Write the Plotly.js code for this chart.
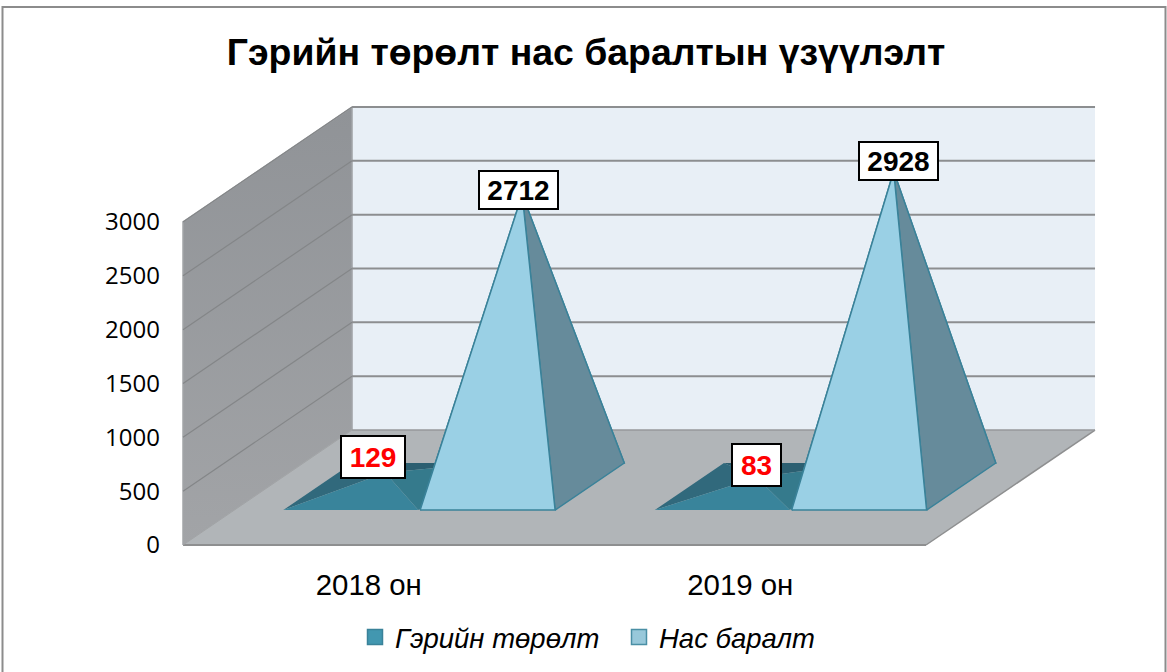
<!DOCTYPE html>
<html>
<head>
<meta charset="utf-8">
<script src="https://cdn.plot.ly/plotly-3.0.1.min.js"></script>
<style>html,body{margin:0;padding:0;background:#fff;overflow:hidden}#chart{width:1167px;height:672px}</style>
</head>
<body>
<div id="chart"></div>
<script>
const categories = ["2018 он", "2019 он"];
const seriesNames = ["Гэрийн төрөлт", "Нас баралт"];
const births = [129, 83];
const deaths = [2712, 2928];
const yTicks = [0, 500, 1000, 1500, 2000, 2500, 3000];
const titleText = "Гэрийн төрөлт нас баралтын үзүүлэлт";

// oblique projection of depth (0 = front, 1 = back) in axis units
const depthX = 0.455, depthY = 1068;
const catMin = -0.5, catMax = categories.length - 0.5, yMax = yTicks[yTicks.length - 1];
const barW = 0.3633, frontD = 0.304, backD = 0.713, midD = (frontD + backD) / 2;

const P = (c, d, v) => [c + d * depthX, v + d * depthY];

function poly(points, fillcolor, line, extra) {
  return Object.assign({
    x: points.map(p => p[0]), y: points.map(p => p[1]),
    mode: line ? "lines" : "none", fill: "toself", fillcolor,
    line: line || {width: 0}, hoverinfo: "skip", showlegend: false, type: "scatter"
  }, extra || {});
}
function segment(a, b, color, width) {
  return {x: [a[0], b[0]], y: [a[1], b[1]], mode: "lines", line: {color, width},
          hoverinfo: "skip", showlegend: false, type: "scatter"};
}
const close = pts => pts.concat([pts[0]]);

const traces = [];
// walls and floor
traces.push(poly(close([P(catMax,1,0),P(catMax,1,yMax),P(catMin,1,yMax),P(catMin,1,0)]), "#E8EFF6"));
traces.push(poly(close([P(catMin,0,0),P(catMin,0,yMax),P(catMin,1,yMax),P(catMin,1,0)]), "#96999C",
  {color:"#A2A5A8",width:1.5}, {fillgradient:{type:"vertical",colorscale:[[0,"#A2A4A7"],[1,"#909397"]]}}));
yTicks.slice(1).forEach(v => {
  traces.push(segment(P(catMin,0,v), P(catMin,1,v), "#848688", 1.2));
  traces.push(segment(P(catMin,1,v), P(catMax,1,v), "#8C8E90", 2));
});
traces.push(poly(close([P(catMin,0,0),P(catMax,0,0),P(catMax,1,0),P(catMin,1,0)]), "#B1B5B8"));
traces.push(segment(P(catMin,0,0), P(catMax,0,0), "#8E8F90", 2));
traces.push(segment(P(catMax,0,0), P(catMax,1,0), "#8E8F90", 1.5));
traces.push(segment(P(catMin,1,0), P(catMax,1,0), "#97999B", 1.5));
traces.push(segment(P(catMin,0,0), P(catMin,1,0), "#A2A4A6", 1));

function pyramid(cLeft, value, colors, outline) {
  const cR = cLeft + barW, cM = cLeft + barW / 2;
  const fl = P(cLeft,frontD,0), fr = P(cR,frontD,0), bl = P(cLeft,backD,0), br = P(cR,backD,0);
  const apex = P(cM,midD,value);
  const ln = outline ? {color: outline, width: 1.5} : null;
  traces.push(poly(close([bl,br,apex]), colors.back, ln));
  traces.push(poly(close([fl,bl,apex]), colors.left, ln));
  traces.push(poly(close([fr,br,apex]), colors.right, ln));
  traces.push(poly(close([fl,fr,apex]), colors.front, ln));
  return apex;
}
const darkColors = {back:"#2C5F71", left:"#31697C", right:"#357A8C", front:"#39849B"};
const lightColors = {back:"#668B9B", left:"#668B9B", right:"#668B9B", front:"#9AD0E5"};

const labelSpec = [];
categories.forEach((c, i) => {
  const a1 = pyramid(i - barW - 0.005, births[i], darkColors, null);
  labelSpec.push({apex:a1, text:String(births[i]), color:"#FF0000", w: births[i] > 99 ? 60 : 45, h:38,
                  xs: i === 0 ? -12 : 0, ys: i === 0 ? 16 : 13});
});
categories.forEach((c, i) => {
  const a2 = pyramid(i, deaths[i], lightColors, "#3A8299");
  labelSpec.push({apex:a2, text:String(deaths[i]), color:"#000000", w:75, h:34,
                  xs: i === 0 ? -4 : 4.5, ys: i === 0 ? 5 : 10});
});

// legend entries
traces.push({x:[null], y:[null], mode:"markers", type:"scatter", name:seriesNames[0], showlegend:true, hoverinfo:"skip",
  marker:{symbol:"square", size:15, color:"#4297B0", line:{color:"#3A8299", width:1.5}}});
traces.push({x:[null], y:[null], mode:"markers", type:"scatter", name:seriesNames[1], showlegend:true, hoverinfo:"skip",
  marker:{symbol:"square", size:15, color:"#98C8DA", line:{color:"#4A8FA5", width:1.5}}});

const mL = 165, mT = 95, mB = 107, W = 1167, H = 672;
const pw = W - mL, ph = H - mT - mB, plotBottom = H - mB;
const px2x = v => -0.5 + (v - 183) / 371.5;
const px2y = v => (545 - v) / 323 * 3000;

const layout = {
  width: W, height: H,
  paper_bgcolor: "#FFFFFF", plot_bgcolor: "rgba(0,0,0,0)",
  margin: {l: mL, r: 0, t: mT, b: mB, pad: 0, autoexpand: false},
  title: {text: titleText, x: 586 / W, xref: "container", xanchor: "center", y: 1 - 52 / H, yref: "container", yanchor: "middle",
          font: {family: "Liberation Sans", size: 37.4, weight: 700, color: "#000"}},
  xaxis: {range: [px2x(mL), px2x(W)], tickmode: "array", tickvals: categories.map((c, i) => i), ticktext: categories,
          showgrid: false, zeroline: false, showline: false, ticks: "", tickfont: {family: "Liberation Sans", size: 29.4, color: "#000"}},
  yaxis: {range: [px2y(plotBottom), px2y(mT)], tickmode: "array", tickvals: yTicks, ticktext: yTicks.map(String),
          showgrid: false, zeroline: false, showline: false, ticks: "", ticklabelstandoff: 4,
          tickfont: {family: "Open Sans", size: 24, color: "#000"}},
  legend: {orientation: "h", x: (355 - mL) / pw, xanchor: "left", y: (plotBottom - 637) / ph, yanchor: "middle",
           entrywidth: 219, entrywidthmode: "pixels",
           font: {family: "Liberation Sans", size: 27.5, style: "italic", color: "#000"}, bgcolor: "rgba(0,0,0,0)", itemclick: false, itemdoubleclick: false},
  annotations: labelSpec.map(l => ({
    x: l.apex[0], y: l.apex[1], xref: "x", yref: "y", text: l.text, showarrow: false,
    xshift: l.xs, yshift: l.ys, width: l.w, height: l.h, align: "center", valign: "middle",
    bgcolor: "#FFFFFF", bordercolor: "#000000", borderwidth: 2, borderpad: 1,
    font: {family: "Liberation Sans", size: 28, weight: 700, color: l.color}
  })),
  shapes: [{type: "rect", xref: "paper", yref: "paper",
    x0: (2.5 - mL) / pw, x1: (1165.5 - mL) / pw, y0: (plotBottom - 690) / ph, y1: (plotBottom - 7) / ph,
    line: {color: "#8C8C8C", width: 2}, fillcolor: "rgba(0,0,0,0)", layer: "above"}]
};
Plotly.newPlot("chart", traces, layout, {displayModeBar: false, staticPlot: true});
</script>
</body>
</html>
